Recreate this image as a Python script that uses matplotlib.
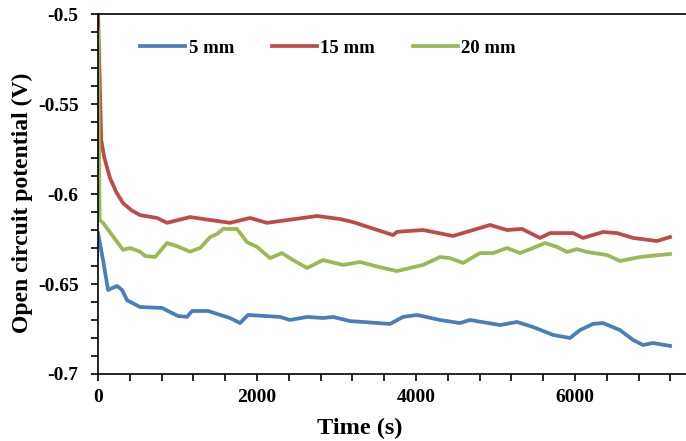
import matplotlib
matplotlib.use("Agg")
import matplotlib.pyplot as plt
from matplotlib.ticker import MultipleLocator, FuncFormatter

# values (time in s, potential in V)
t_5mm = [0, 63, 126, 239, 302, 365, 528, 805, 1006, 1119, 1182, 1384, 1660, 1786,
         1887, 2289, 2415, 2629, 2830, 2956, 3170, 3333, 3673, 3836, 4013, 4302,
         4553, 4679, 5057, 5270, 5472, 5723, 5937, 6063, 6226, 6352, 6566, 6730,
         6855, 6981, 7195]
v_5mm = [-0.6217, -0.6367, -0.6533, -0.6511, -0.6533, -0.659, -0.6628, -0.6633,
         -0.6678, -0.6683, -0.665, -0.665, -0.6689, -0.6717, -0.6672, -0.6683,
         -0.670, -0.6683, -0.6689, -0.6683, -0.6706, -0.6711, -0.6722, -0.6683,
         -0.6672, -0.670, -0.6717, -0.670, -0.6728, -0.6711, -0.6739, -0.6783,
         -0.680, -0.6756, -0.6722, -0.6717, -0.6756, -0.6811, -0.6839, -0.6828,
         -0.6844]

t_15mm = [0, 40, 80, 150, 230, 314, 420, 528, 742, 868, 1157, 1660, 1912, 2126,
          2755, 3044, 3208, 3711, 3761, 4088, 4465, 4931, 5145, 5333, 5560, 5686,
          5975, 6101, 6352, 6528, 6730, 7031, 7195]
v_15mm = [-0.500, -0.570, -0.580, -0.591, -0.599, -0.605, -0.609, -0.6117,
          -0.6133, -0.616, -0.6128, -0.616, -0.6133, -0.616, -0.6122, -0.6139,
          -0.6156, -0.6228, -0.621, -0.620, -0.6233, -0.6172, -0.620, -0.6194,
          -0.6244, -0.6217, -0.6217, -0.6244, -0.6211, -0.6217, -0.6244, -0.6261,
          -0.6239]

t_20mm = [0, 20, 63, 314, 403, 528, 591, 717, 868, 994, 1157, 1283, 1409, 1497,
          1572, 1748, 1874, 2000, 2164, 2314, 2453, 2629, 2830, 3082, 3296, 3585,
          3761, 4088, 4302, 4428, 4591, 4805, 4969, 5145, 5308, 5472, 5623, 5774,
          5899, 6025, 6151, 6403, 6566, 6818, 7195]
v_20mm = [-0.5089, -0.6144, -0.616, -0.631, -0.630, -0.632, -0.6344, -0.635,
          -0.6272, -0.629, -0.632, -0.630, -0.624, -0.6222, -0.6194, -0.6194,
          -0.6267, -0.6294, -0.6356, -0.6328, -0.6367, -0.6411, -0.6367, -0.6394,
          -0.6378, -0.6411, -0.6428, -0.6394, -0.635, -0.6356, -0.6383, -0.6328,
          -0.6328, -0.630, -0.6328, -0.630, -0.6272, -0.6294, -0.6322, -0.6306,
          -0.6322, -0.6339, -0.6372, -0.635, -0.6333]

plt.rcParams["font.family"] = ["Liberation Serif", "DejaVu Serif"]
plt.rcParams["font.weight"] = "bold"

fig = plt.figure(figsize=(6.86, 4.41), dpi=100)
ax = fig.add_axes([0.1429, 0.152, 0.8571, 0.816])

ax.plot(t_5mm, v_5mm, color="#4A7EBB", lw=2.7, label="5 mm")
ax.plot(t_15mm, v_15mm, color="#BE4B48", lw=2.7, label="15 mm")
ax.plot(t_20mm, v_20mm, color="#98B954", lw=2.7, label="20 mm")

ax.set_xlim(0, 7396)
ax.set_ylim(-0.7, -0.5)
ax.xaxis.set_major_locator(MultipleLocator(2000))
ax.xaxis.set_minor_locator(MultipleLocator(400))
ax.yaxis.set_major_locator(MultipleLocator(0.05))
ax.yaxis.set_minor_locator(MultipleLocator(0.01))
ax.yaxis.set_major_formatter(FuncFormatter(lambda v, _: f"{v:g}"))
ax.tick_params(which="both", direction="out", length=5, width=1.2,
               labelsize=14, top=False, right=False)
ax.tick_params(axis="x", pad=6)
ax.tick_params(axis="y", pad=9)

for side in ["left", "bottom", "top"]:
    ax.spines[side].set_linewidth(1.2)
ax.spines["right"].set_visible(False)

ax.set_xlabel("Time (s)", fontsize=17.5, fontweight="bold")
ax.set_ylabel("Open circuit potential (V)", fontsize=17, fontweight="bold")
ax.xaxis.set_label_coords(0.4447, -0.122)
ax.yaxis.set_label_coords(-0.1105, 0.475)

ax.legend(loc="center left", bbox_to_anchor=(0.0714, 0.9056), ncol=3,
          frameon=False, borderpad=0, borderaxespad=0,
          handlelength=2.4, handletextpad=0.2, columnspacing=2.0,
          prop={"size": 13.5, "weight": "bold"})

fig.savefig("out.png")
